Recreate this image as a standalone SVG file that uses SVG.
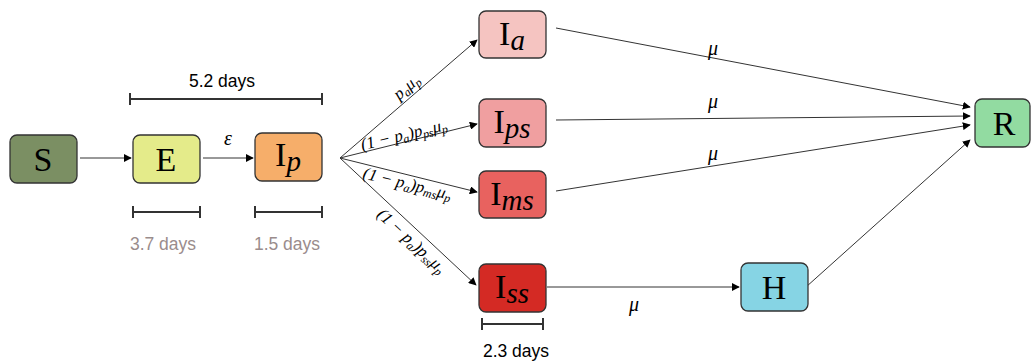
<svg xmlns="http://www.w3.org/2000/svg" width="1031" height="363" viewBox="0 0 1031 363">
<defs>
<marker id="ah" viewBox="0 0 10 10" refX="9" refY="5" markerWidth="8" markerHeight="8" markerUnits="userSpaceOnUse" orient="auto"><path d="M0,0 L10,5 L0,10 z" fill="#000"/></marker>
<style>
.box{stroke:#333;stroke-width:1.3}
.lbl{font-family:"Liberation Serif","DejaVu Serif",serif;font-size:34px;fill:#000;text-anchor:middle}
.sub{font-style:italic;font-size:29px}
.edge{stroke:#333;stroke-width:1;fill:none;marker-end:url(#ah)}
.math{font-family:"Liberation Serif","DejaVu Serif",serif;font-style:italic;font-size:20px;fill:#000;text-anchor:middle}
.rl{font-size:17px}
.days{font-family:"Liberation Sans",Arial,sans-serif;font-size:17.5px;text-anchor:middle}
.br{stroke:#333;stroke-width:2;fill:none}
</style>
</defs>
<rect width="1031" height="363" fill="#fff"/>
<g id="brackets">
<path class="br" d="M130,99H322M130,93V105M322,93V105"/>
<text class="days" x="222" y="87" fill="#000">5.2 days</text>
<path class="br" d="M133,212H200M133,206V218M200,206V218"/>
<text class="days" x="163" y="250" fill="#9a8c8c">3.7 days</text>
<path class="br" d="M255,212H322M255,206V218M322,206V218"/>
<text class="days" x="287" y="250" fill="#9a8c8c">1.5 days</text>
<path class="br" d="M482,324H543M482,318V330M543,318V330"/>
<text class="days" x="516" y="357" fill="#000">2.3 days</text>
</g>
<g id="connectors">
<line class="edge" x1="80" y1="158" x2="131" y2="158"/>
<line class="edge" x1="203" y1="158" x2="253" y2="158"/>
<line class="edge" x1="340" y1="158" x2="477" y2="40"/>
<line class="edge" x1="340" y1="158" x2="477" y2="124"/>
<line class="edge" x1="340" y1="158" x2="477" y2="192"/>
<line class="edge" x1="340" y1="158" x2="476" y2="285"/>
<line class="edge" x1="556" y1="28" x2="970" y2="107"/>
<line class="edge" x1="556" y1="120" x2="970" y2="116"/>
<line class="edge" x1="556" y1="191" x2="970" y2="125"/>
<line class="edge" x1="806" y1="287" x2="970" y2="140"/>
<line class="edge" x1="547" y1="287" x2="739" y2="287"/>
<text class="math" x="228" y="145">ε</text>
<text class="math" x="713" y="55">μ</text>
<text class="math" x="713" y="108">μ</text>
<text class="math" x="713" y="160">μ</text>
<text class="math" x="634" y="311">μ</text>
<text class="math rl" transform="translate(410,91) rotate(-40.7)">p<tspan font-size="12" dy="3">a</tspan><tspan dy="-3">μ</tspan><tspan font-size="12" dy="3">p</tspan></text>
<text class="math rl" transform="translate(405,140) rotate(-13.5)">(1 − p<tspan font-size="12" dy="3">a</tspan><tspan dy="-3">)p</tspan><tspan font-size="12" dy="3">ps</tspan><tspan dy="-3">μ</tspan><tspan font-size="12" dy="3">p</tspan></text>
<text class="math rl" transform="translate(406,189) rotate(13.9)">(1 − p<tspan font-size="12" dy="3">a</tspan><tspan dy="-3">)p</tspan><tspan font-size="12" dy="3">ms</tspan><tspan dy="-3">μ</tspan><tspan font-size="12" dy="3">p</tspan></text>
<text class="math rl" transform="translate(408,245) rotate(42.8)">(1 − p<tspan font-size="12" dy="3">a</tspan><tspan dy="-3">)p</tspan><tspan font-size="12" dy="3">ss</tspan><tspan dy="-3">μ</tspan><tspan font-size="12" dy="3">p</tspan></text>
</g>
<g id="S"><rect class="box" x="10" y="135" width="67" height="48" rx="7" fill="#7b8f63"/><text class="lbl" x="43" y="171">S</text></g>
<g id="E"><rect class="box" x="133" y="135" width="67" height="48" rx="7" fill="#e4eb8a"/><text class="lbl" x="166" y="171">E</text></g>
<g id="Ip"><rect class="box" x="255" y="133" width="67" height="48" rx="7" fill="#f6ae6a"/><text class="lbl" x="288" y="166">I<tspan class="sub" dy="5">p</tspan></text></g>
<g id="Ia"><rect class="box" x="479" y="11" width="67" height="47" rx="7" fill="#f5c4c1"/><text class="lbl" x="512" y="45">I<tspan class="sub" dy="5">a</tspan></text></g>
<g id="Ips"><rect class="box" x="479" y="99" width="67" height="48" rx="7" fill="#f09fa0"/><text class="lbl" x="512" y="133">I<tspan class="sub" dy="5">ps</tspan></text></g>
<g id="Ims"><rect class="box" x="479" y="171" width="67" height="47" rx="7" fill="#e8625f"/><text class="lbl" x="512" y="205">I<tspan class="sub" dy="5">ms</tspan></text></g>
<g id="Iss"><rect class="box" x="479" y="264" width="67" height="48" rx="7" fill="#d42a24"/><text class="lbl" x="512" y="298">I<tspan class="sub" dy="5">ss</tspan></text></g>
<g id="H"><rect class="box" x="741" y="263" width="67" height="48" rx="7" fill="#86d4e4"/><text class="lbl" x="774" y="299">H</text></g>
<g id="R"><rect class="box" x="975" y="99" width="55" height="48" rx="7" fill="#92dba1"/><text class="lbl" x="1004" y="135">R</text></g>
</svg>
